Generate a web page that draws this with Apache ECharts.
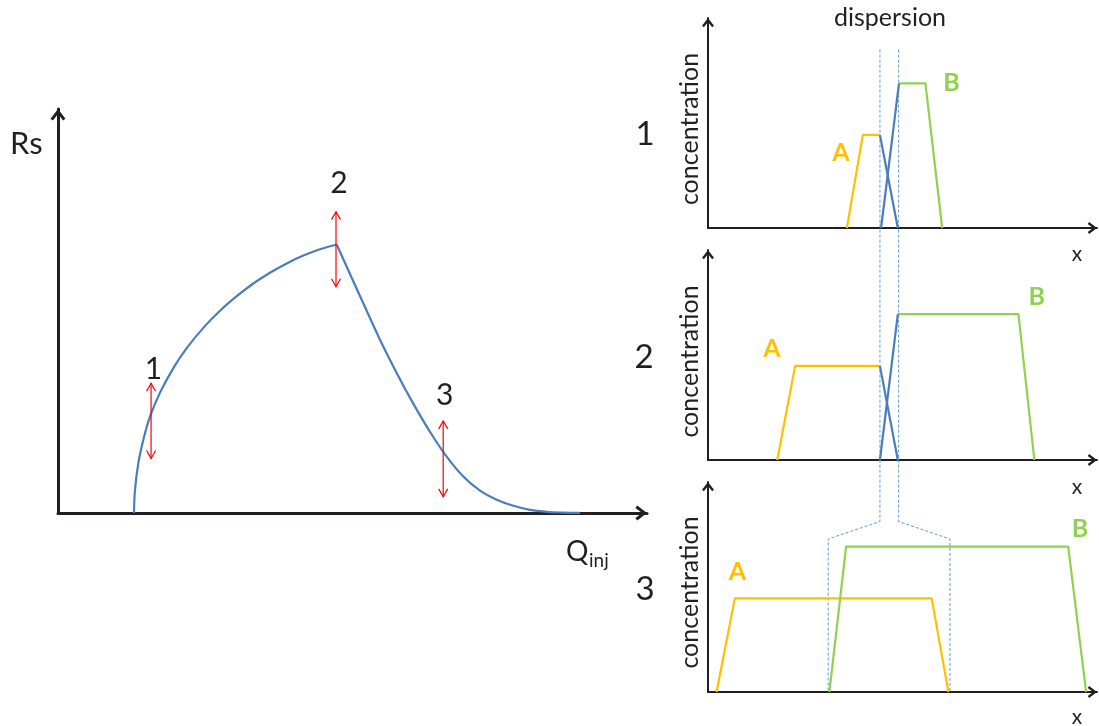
<!DOCTYPE html>
<html><head><meta charset="utf-8">
<script src="https://cdn.jsdelivr.net/npm/echarts@6/dist/echarts.min.js"></script>
<style>html,body{margin:0;padding:0;background:#fff}#c{width:1099px;height:726px}</style>
</head><body><div id="c"></div>
<script>
// ---- Left panel: Rs vs Q_inj ----
const rsRising = [[12.90,0],[13.07,5.69],[13.63,12.30],[14.48,18.07],[15.62,23.84],[17.32,29.80],[19.58,35.87],[21.85,40.79],[24.67,45.82],[27.50,50.05],[30.34,53.66],[33.16,56.81],[35.99,59.48],[38.83,61.78],[41.65,63.71],[44.48,65.27],[47.32,66.46]];
const rsFalling = [[47.32,66.46],[49.02,60.97],[51.83,51.93],[54.67,42.90],[57.50,34.68],[60.32,27.08],[63.16,20.10],[65.99,13.94],[68.81,9.01],[71.65,5.52],[74.48,3.27],[77.30,1.78],[80.14,0.79],[82.97,0.30],[85.79,0.10],[88.62,0.02]];
// markers: [Q, Rs low, Rs high]
const markers = [[15.8,13.5,32.1],[47.2,56.0,74.6],[65.4,4.0,22.8]];
const markerLabels = ['1','2','3'];
// ---- Right panels: concentration profiles along x ----
const p1A = [[35.7,0],[39.8,44.3],[44.2,44.3]];
const p1AMix = [[44.2,44.3],[48.8,0]];
const p1BMix = [[44.5,0],[49.1,68.9]];
const p1B = [[49.1,68.9],[55.9,68.9],[60.2,0]];
const p2A = [[17.8,0],[22.4,44.8],[44.2,44.8]];
const p2AMix = [[44.2,44.8],[48.8,0]];
const p2BMix = [[44.2,0],[48.8,69.5]];
const p2B = [[48.8,69.5],[79.8,69.5],[83.9,0]];
const p3A = [[2.2,0],[6.9,44.6],[57.5,44.6],[61.8,0]];
const p3B = [[31.2,0],[35.5,69.2],[92.6,69.2],[97.2,0]];
// dispersion boundaries on the stacked overlay
const dispLeft = [[44.2,95.3],[44.2,25.3],[30.9,22.7],[30.9,0]];
const dispRight = [[49.0,95.3],[49.0,25.3],[62.2,22.7],[62.2,0]];
const panelNames = ['1','2','3'];

const INK = '#231f20', YEL = '#ffc000', GRN = '#92d050', BLU = '#4a7ebb', DASH = '#5b9bd5';
const FONT = 'Lato, "Open Sans", sans-serif';
const CHEV = 'path://M10,0 L20,13 L16.83,15.44 L10,6.56 L3.17,15.44 L0,13 Z';

function ax(gi, w, sym, show) {
  return {
    type: 'value', gridIndex: gi, min: 0, max: 100, show: show !== false,
    axisLine: { show: true, onZero: false, symbol: ['none', CHEV], symbolSize: sym, symbolOffset: [0, -sym[1] / 2],
      lineStyle: { color: INK, width: w } },
    axisTick: { show: false }, axisLabel: { show: false }, splitLine: { show: false }
  };
}
function lineS(gi, data, color, z) {
  return { type: 'line', xAxisIndex: gi, yAxisIndex: gi, data: data, symbol: 'none', silent: true, z: z || 3,
    lineStyle: { color: color, width: 2.2 }, animation: false };
}

const chart = echarts.init(document.getElementById('c'), null, { renderer: 'canvas' });
const option = {
  animation: false,
  backgroundColor: '#fff',
  grid: [
    { left: 58, top: 109, width: 589, height: 404 },
    { left: 708, top: 18, width: 389, height: 210 },
    { left: 708, top: 250, width: 389, height: 210 },
    { left: 708, top: 482, width: 389, height: 210 },
    { left: 708, top: 18, width: 389, height: 674 }
  ],
  xAxis: [ax(0, 3, [15, 11.6]), ax(1, 2, [12, 9.3]), ax(2, 2, [12, 9.3]), ax(3, 2, [12, 9.3]), ax(4, 1, [10, 8], false)],
  yAxis: [ax(0, 3, [15, 11.6]), ax(1, 2, [12, 9.3]), ax(2, 2, [12, 9.3]), ax(3, 2, [12, 9.3]), ax(4, 1, [10, 8], false)],
  series: [
    Object.assign(lineS(0, rsRising, BLU), { smooth: 0.4 }),
    Object.assign(lineS(0, rsFalling, BLU), { smooth: 0.4 }),
    {
      type: 'custom', xAxisIndex: 0, yAxisIndex: 0, data: markers, z: 5, silent: true,
      encode: { x: 0, y: [1, 2] },
      renderItem: function (params, api) {
        const q = api.value(0), lo = api.value(1), hi = api.value(2);
        const t = api.coord([q, hi]), b = api.coord([q, lo]);
        const hw = 4.5, hh = 8, st = { stroke: '#ff0000', lineWidth: 1.2, fill: null };
        return { type: 'group', children: [
          { type: 'line', shape: { x1: t[0], y1: t[1], x2: b[0], y2: b[1] }, style: st },
          { type: 'polyline', shape: { points: [[t[0] - hw, t[1] + hh], [t[0], t[1]], [t[0] + hw, t[1] + hh]] }, style: st },
          { type: 'polyline', shape: { points: [[b[0] - hw, b[1] - hh], [b[0], b[1]], [b[0] + hw, b[1] - hh]] }, style: st }
        ]};
      }
    },
    lineS(1, p1A, YEL), lineS(1, p1B, GRN), lineS(1, p1AMix, BLU), lineS(1, p1BMix, BLU),
    lineS(2, p2A, YEL), lineS(2, p2B, GRN), lineS(2, p2AMix, BLU), lineS(2, p2BMix, BLU),
    lineS(3, p3A, YEL), lineS(3, p3B, GRN),
    Object.assign(lineS(4, dispLeft, DASH, 2), { lineStyle: { color: DASH, width: 1, type: [3, 2] } }),
    Object.assign(lineS(4, dispRight, DASH, 2), { lineStyle: { color: DASH, width: 1, type: [3, 2] } })
  ],
  graphic: []
};
const g = option.graphic;
function txt(s, x, y, size, opts) {
  opts = opts || {};
  g.push({ type: 'text', x: x, y: y, rotation: opts.rot || 0, silent: true, z: 10,
    style: { text: s, x: 0, y: 0, fill: opts.fill || INK, font: (opts.weight || 'normal') + ' ' + size + 'px ' + FONT,
      textAlign: opts.align || 'center', textVerticalAlign: 'middle' } });
}
txt('Rs', 10, 144, 31, { align: 'left' });
txt('Q', 566, 552, 28, { align: 'left' });
txt('inj', 589, 561, 19, { align: 'left' });
const mPos = [[153.5, 369], [339, 183], [444.6, 395]];
markerLabels.forEach((s, i) => txt(s, mPos[i][0], mPos[i][1], 30));
const pPos = [[645, 134], [644, 357], [645, 589]];
panelNames.forEach((s, i) => txt(s, pPos[i][0], pPos[i][1], 33));
[129, 361.5, 592.5].forEach(y => txt('concentration', 690, y, 25, { rot: Math.PI / 2 }));
[254, 487, 717.5].forEach(y => txt('x', 1077, y, 21));
txt('dispersion', 890, 18, 25);
txt('A', 841, 152.5, 25, { fill: YEL, weight: 'bold' });
txt('B', 951.5, 83, 25, { fill: GRN, weight: 'bold' });
txt('A', 772, 349, 25, { fill: YEL, weight: 'bold' });
txt('B', 1036.7, 297, 25, { fill: GRN, weight: 'bold' });
txt('A', 737.5, 572, 25, { fill: YEL, weight: 'bold' });
txt('B', 1080, 529, 25, { fill: GRN, weight: 'bold' });
chart.setOption(option);
</script>
</body></html>
